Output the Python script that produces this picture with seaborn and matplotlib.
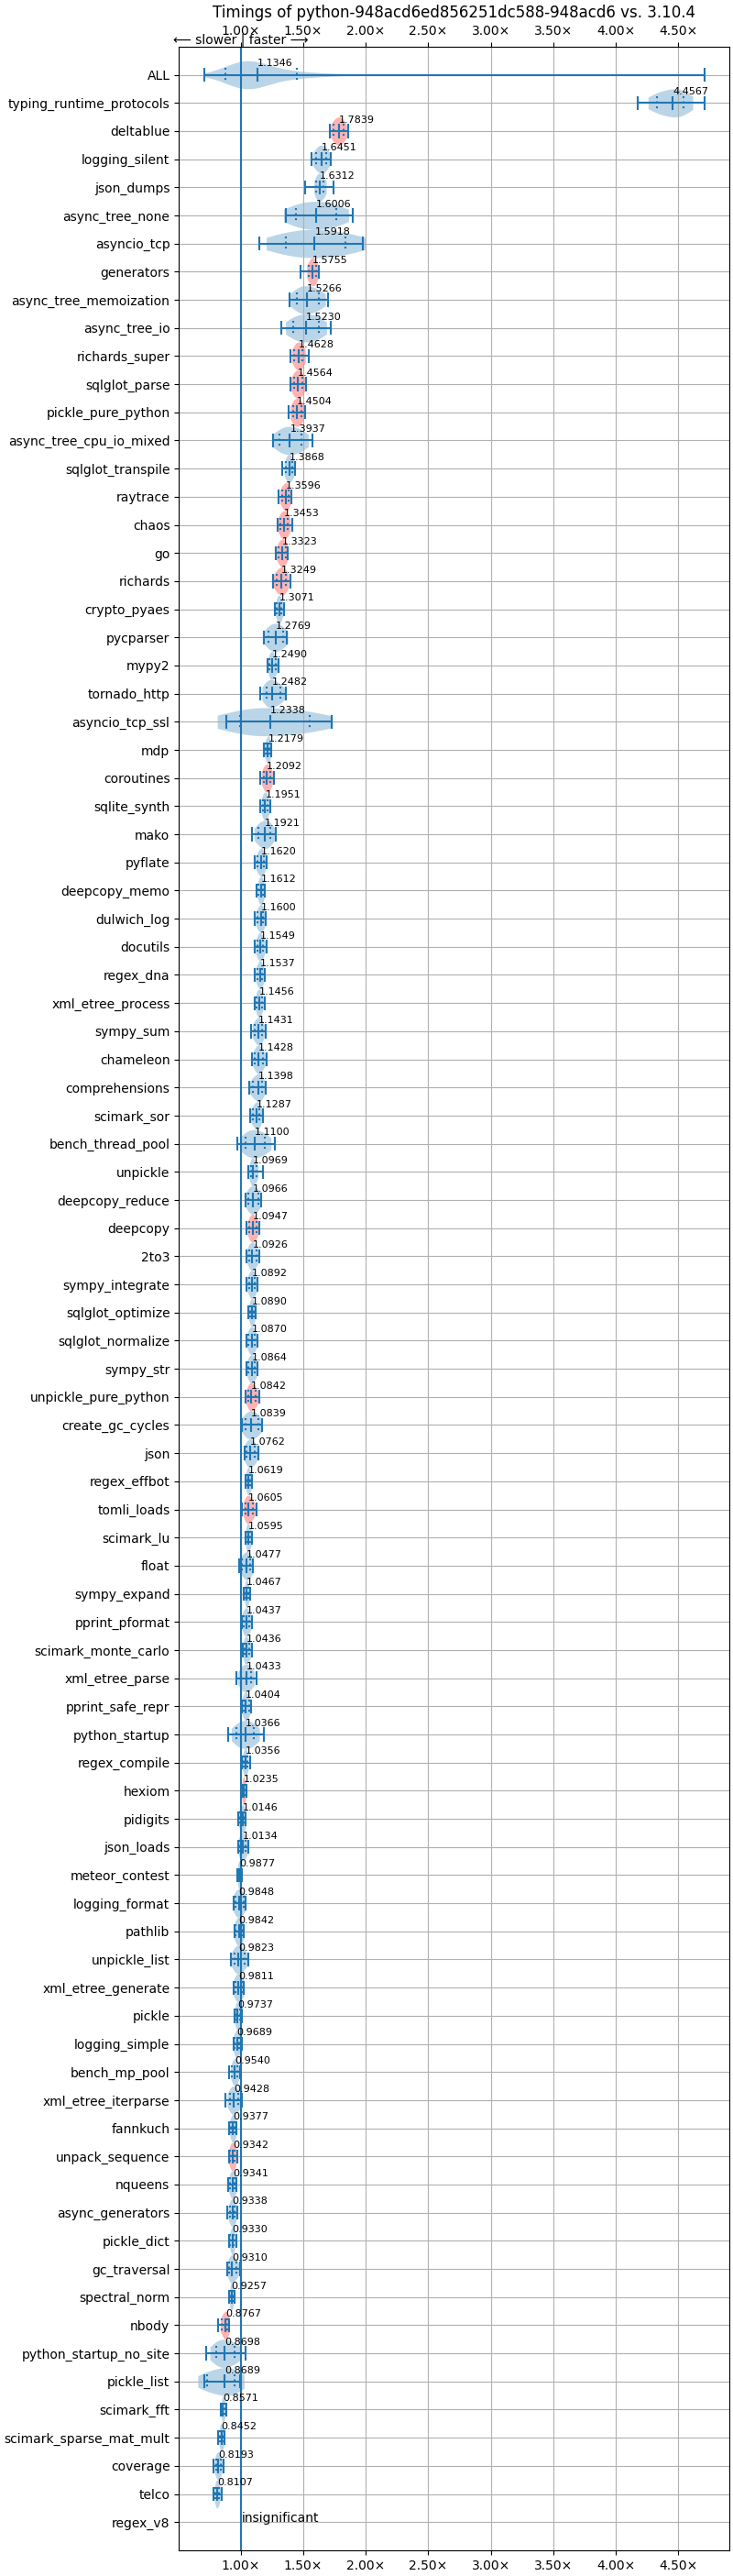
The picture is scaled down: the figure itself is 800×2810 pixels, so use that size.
import numpy as np
import pandas as pd
import matplotlib
matplotlib.use("Agg")
import matplotlib.pyplot as plt
import seaborn as sns
from matplotlib.ticker import MultipleLocator, FuncFormatter
from matplotlib.transforms import blended_transform_factory

TITLE = "Timings of python-948acd6ed856251dc588-948acd6 vs. 3.10.4"

# benchmarks, top to bottom (sorted by mean speedup)
BENCHMARKS = [
    "typing_runtime_protocols", "deltablue", "logging_silent", "json_dumps",
    "async_tree_none", "asyncio_tcp", "generators", "async_tree_memoization",
    "async_tree_io", "richards_super", "sqlglot_parse", "pickle_pure_python",
    "async_tree_cpu_io_mixed", "sqlglot_transpile", "raytrace", "chaos", "go",
    "richards", "crypto_pyaes", "pycparser", "mypy2", "tornado_http",
    "asyncio_tcp_ssl", "mdp", "coroutines", "sqlite_synth", "mako", "pyflate",
    "deepcopy_memo", "dulwich_log", "docutils", "regex_dna", "xml_etree_process",
    "sympy_sum", "chameleon", "comprehensions", "scimark_sor", "bench_thread_pool",
    "unpickle", "deepcopy_reduce", "deepcopy", "2to3", "sympy_integrate",
    "sqlglot_optimize", "sqlglot_normalize", "sympy_str", "unpickle_pure_python",
    "create_gc_cycles", "json", "regex_effbot", "tomli_loads", "scimark_lu",
    "float", "sympy_expand", "pprint_pformat", "scimark_monte_carlo",
    "xml_etree_parse", "pprint_safe_repr", "python_startup", "regex_compile",
    "hexiom", "pidigits", "json_loads", "meteor_contest", "logging_format",
    "pathlib", "unpickle_list", "xml_etree_generate", "pickle", "logging_simple",
    "bench_mp_pool", "xml_etree_iterparse", "fannkuch", "unpack_sequence",
    "nqueens", "async_generators", "pickle_dict", "gc_traversal", "spectral_norm",
    "nbody", "python_startup_no_site", "pickle_list", "scimark_fft",
    "scimark_sparse_mat_mult", "coverage", "telco",
]

MINS = [
    4.175, 1.710, 1.566, 1.512, 1.359, 1.146, 1.478, 1.388, 1.327, 1.395, 1.395, 1.383,
    1.256, 1.334, 1.305, 1.298, 1.283, 1.256, 1.271, 1.188, 1.212, 1.154, 0.883, 1.185,
    1.154, 1.159, 1.088, 1.115, 1.129, 1.110, 1.115, 1.115, 1.110, 1.085, 1.088, 1.066,
    1.073, 0.973, 1.059, 1.037, 1.046, 1.044, 1.049, 1.061, 1.044, 1.049, 1.039, 1.007,
    1.029, 1.037, 1.007, 1.037, 0.990, 1.027, 1.007, 1.017, 0.968, 1.007, 0.898, 1.007,
    1.007, 0.980, 0.978, 0.973, 0.941, 0.949, 0.924, 0.941, 0.949, 0.941, 0.910, 0.880,
    0.905, 0.905, 0.902, 0.895, 0.910, 0.895, 0.910, 0.815, 0.722, 0.705, 0.839, 0.822,
    0.785, 0.785,
]
Q10 = [
    4.329, 1.744, 1.602, 1.605, 1.444, 1.359, 1.546, 1.451, 1.422, 1.429, 1.424, 1.417,
    1.310, 1.363, 1.329, 1.315, 1.302, 1.285, 1.290, 1.222, 1.232, 1.205, 0.993, 1.198,
    1.183, 1.176, 1.139, 1.134, 1.144, 1.134, 1.134, 1.132, 1.129, 1.110, 1.115, 1.095,
    1.095, 1.041, 1.080, 1.061, 1.071, 1.066, 1.066, 1.073, 1.063, 1.063, 1.061, 1.037,
    1.046, 1.046, 1.037, 1.046, 1.012, 1.037, 1.022, 1.029, 1.002, 1.022, 0.968, 1.022,
    1.015, 0.990, 0.993, 0.980, 0.956, 0.961, 0.949, 0.956, 0.961, 0.949, 0.932, 0.912,
    0.920, 0.915, 0.915, 0.912, 0.917, 0.910, 0.917, 0.851, 0.802, 0.729, 0.851, 0.834,
    0.802, 0.798,
]
MEANS = [
    4.4567, 1.7839, 1.6451, 1.6312, 1.6006, 1.5918, 1.5755, 1.5266, 1.5230, 1.4628,
    1.4564, 1.4504, 1.3937, 1.3868, 1.3596, 1.3453, 1.3323, 1.3249, 1.3071, 1.2769,
    1.2490, 1.2482, 1.2338, 1.2179, 1.2092, 1.1951, 1.1921, 1.1620, 1.1612, 1.1600,
    1.1549, 1.1537, 1.1456, 1.1431, 1.1428, 1.1398, 1.1287, 1.1100, 1.0969, 1.0966,
    1.0947, 1.0926, 1.0892, 1.0890, 1.0870, 1.0864, 1.0842, 1.0839, 1.0762, 1.0619,
    1.0605, 1.0595, 1.0477, 1.0467, 1.0437, 1.0436, 1.0433, 1.0404, 1.0366, 1.0356,
    1.0235, 1.0146, 1.0134, 0.9877, 0.9848, 0.9842, 0.9823, 0.9811, 0.9737, 0.9689,
    0.9540, 0.9428, 0.9377, 0.9342, 0.9341, 0.9338, 0.9330, 0.9310, 0.9257, 0.8767,
    0.8698, 0.8689, 0.8571, 0.8452, 0.8193, 0.8107,
]
Q90 = [
    4.546, 1.822, 1.685, 1.665, 1.761, 1.841, 1.602, 1.622, 1.622, 1.495, 1.493, 1.485,
    1.485, 1.412, 1.383, 1.376, 1.359, 1.359, 1.327, 1.339, 1.278, 1.315, 1.554, 1.229,
    1.237, 1.217, 1.237, 1.183, 1.180, 1.180, 1.180, 1.173, 1.168, 1.168, 1.176, 1.168,
    1.149, 1.193, 1.124, 1.139, 1.124, 1.124, 1.115, 1.105, 1.112, 1.115, 1.120, 1.139,
    1.115, 1.076, 1.095, 1.078, 1.078, 1.061, 1.071, 1.071, 1.083, 1.066, 1.105, 1.051,
    1.037, 1.029, 1.041, 1.002, 1.022, 1.012, 1.029, 1.012, 0.993, 0.985, 0.973, 0.978,
    0.954, 0.954, 0.954, 0.954, 0.944, 0.966, 0.937, 0.895, 0.954, 0.954, 0.871, 0.859,
    0.839, 0.827,
]
MAXS = [
    4.709, 1.859, 1.722, 1.739, 1.895, 1.980, 1.627, 1.695, 1.722, 1.546, 1.524, 1.517,
    1.571, 1.437, 1.402, 1.412, 1.376, 1.395, 1.344, 1.371, 1.302, 1.359, 1.729, 1.244,
    1.263, 1.234, 1.280, 1.205, 1.195, 1.198, 1.205, 1.190, 1.190, 1.198, 1.205, 1.198,
    1.176, 1.273, 1.176, 1.163, 1.149, 1.149, 1.134, 1.122, 1.134, 1.134, 1.146, 1.168,
    1.141, 1.088, 1.124, 1.088, 1.100, 1.073, 1.088, 1.088, 1.124, 1.083, 1.188, 1.073,
    1.046, 1.041, 1.059, 1.012, 1.039, 1.027, 1.061, 1.027, 1.007, 1.007, 0.993, 1.010,
    0.968, 0.973, 0.968, 0.973, 0.963, 0.993, 0.949, 0.910, 1.041, 0.993, 0.883, 0.871,
    0.861, 0.846,
]

# bodies drawn in red
RED = [
    "deltablue", "generators", "richards_super", "sqlglot_parse",
    "pickle_pure_python", "raytrace", "chaos", "go", "richards", "coroutines",
    "deepcopy", "unpickle_pure_python", "tomli_loads", "hexiom",
    "unpack_sequence", "nbody",
]

# ALL row: min, q10, mean, q90, max
ALL_STATS = [0.707, 0.876, 1.1346, 1.446, 4.709]
INSIGNIFICANT = ["regex_v8"]

# long-form tables for seaborn
body_rows, all_rows = [], []
for name, lo, a, m, b, hi in zip(BENCHMARKS, MINS, Q10, MEANS, Q90, MAXS):
    # body of each violin from the inner stats, extremes shown by the caps
    body_rows += [(name, v) for v in (a, m, b)]
    all_rows += [("ALL", v) for v in (lo, a, m, b, hi)]
body_rows += [(n, 1.0) for n in INSIGNIFICANT]
body_df = pd.DataFrame(body_rows, columns=["benchmark", "speedup"])
all_df = pd.DataFrame(all_rows, columns=["benchmark", "speedup"])

order = ["ALL"] + BENCHMARKS + INSIGNIFICANT
palette = {n: ("red" if n in RED else "#1f77b4") for n in order}

fig = plt.figure(figsize=(8, 28.1), dpi=100)
ax = fig.add_axes([0.244, 0.0100, 0.751, 0.9719])

common = dict(x="speedup", y="benchmark", order=order, hue="benchmark",
              hue_order=order, palette=palette, dodge=False, legend=False,
              inner=None, width=1.0, density_norm="width", linewidth=0,
              saturation=1, ax=ax)
sns.violinplot(data=body_df, cut=0.8, **common)
sns.violinplot(data=all_df, cut=0, **common)
for coll in ax.collections:
    coll.set_alpha(0.3)

# extrema / mean / quantile markers
lo = np.array([ALL_STATS[0]] + MINS)
q10 = np.array([ALL_STATS[1]] + Q10)
mean = np.array([ALL_STATS[2]] + MEANS)
q90 = np.array([ALL_STATS[3]] + Q90)
hi = np.array([ALL_STATS[4]] + MAXS)
pos = np.arange(len(lo))

c = "#1f77b4"
ax.hlines(pos, lo, hi, color=c, lw=1.5)
for xs in (lo, hi, mean):
    ax.vlines(xs, pos - 0.25, pos + 0.25, color=c, lw=1.5)
for xs in (q10, q90):
    ax.vlines(xs, pos - 0.25, pos + 0.25, color=c, lw=1.5, linestyles=":")

for p, m in zip(pos, mean):
    ax.text(m, p - 0.3, f"{m:.04f}", size=8)
for name in INSIGNIFICANT:
    ax.text(1.01, order.index(name), "insignificant")

ax.axvline(1.0, color=c, lw=1.5)

ax.xaxis.set_major_locator(MultipleLocator(0.5))
ax.xaxis.set_major_formatter(FuncFormatter(lambda v, p: f"{v:.02f}×"))
ax.tick_params(axis="x", top=True, labeltop=True)
ax.grid(True)
pad = 0.05 * (hi.max() - lo.min())
ax.set_xlim(lo.min() - pad, hi.max() + pad)
ax.set_ylim(len(order), -1)
ax.set_xlabel("")
ax.set_ylabel("")
ax.set_title(TITLE)

trans = blended_transform_factory(ax.transData, ax.transAxes)
ax.text(1.0, 1.0, "⟵ slower | faster ⟶", transform=trans, ha="center", va="bottom")

fig.savefig("out.png", dpi=100)
